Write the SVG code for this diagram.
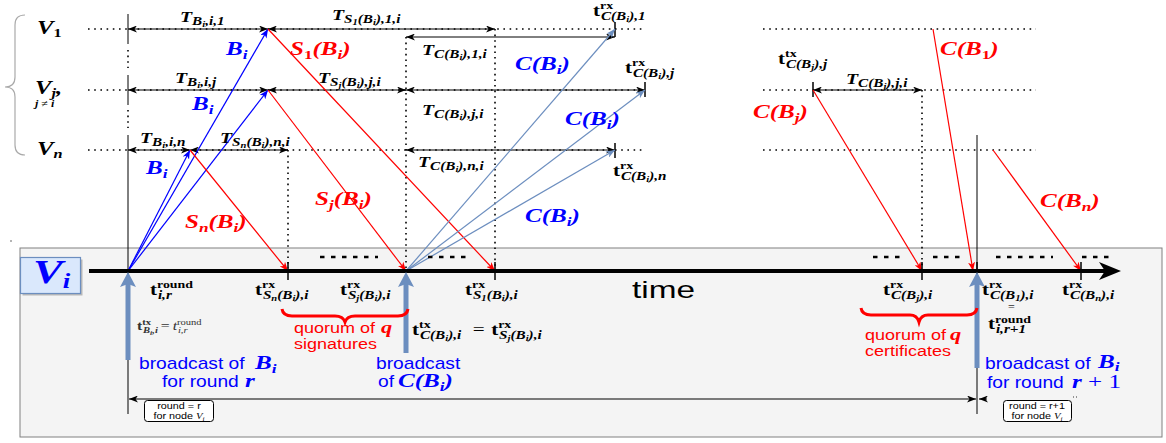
<svg xmlns="http://www.w3.org/2000/svg" width="1166" height="443" viewBox="0 0 1166 443">
<style>
text{font-family:"Liberation Serif","DejaVu Serif",serif}
.m{font-style:italic;font-weight:bold}
.up{font-style:normal}
.nb{font-weight:normal}
.sans{font-family:"Liberation Sans",Arial,sans-serif;font-style:normal;font-weight:normal}
.a{font-size:15px}
.t{font-size:16px}
.s{font-size:10.5px}
.b{font-size:11.5px}
.c{font-size:8px}
.L{font-size:19px}
.Ls{font-size:13px}
.red{fill:#f00}
.blu{fill:#00f}
.dot{stroke:#000;stroke-width:1.6;stroke-dasharray:1.6 4.6;fill:none}
.vdot{stroke:#000;stroke-width:1.6;stroke-dasharray:1.6 4;fill:none}
.tk{stroke:#000;stroke-width:1.5}
.dim{stroke:#000;stroke-width:1;marker-start:url(#hk);marker-end:url(#hk)}
.lr{stroke:#f00;stroke-width:1.2;marker-end:url(#hr)}
.lb{stroke:#00f;stroke-width:1.2;marker-end:url(#hb)}
.ls{stroke:#6c8ebf;stroke-width:1.2;marker-end:url(#hs)}
.fat{stroke:#6c8ebf;stroke-width:5}
.dash{stroke:#000;stroke-width:2.6;stroke-dasharray:4.5 6.5}
.box{fill:#fff;stroke:#000;stroke-width:1}
</style>
<defs>
<marker id="hk" viewBox="0 0 9 7" refX="9" refY="3.5" markerWidth="9" markerHeight="7" markerUnits="userSpaceOnUse" orient="auto-start-reverse"><path d="M0,0 L9,3.5 L0,7 L2.5,3.5 z" fill="#000"/></marker>
<marker id="hr" viewBox="0 0 9 7" refX="9" refY="3.5" markerWidth="9" markerHeight="7" markerUnits="userSpaceOnUse" orient="auto"><path d="M0,0 L9,3.5 L0,7 L2.5,3.5 z" fill="#f00"/></marker>
<marker id="hb" viewBox="0 0 9 7" refX="9" refY="3.5" markerWidth="9" markerHeight="7" markerUnits="userSpaceOnUse" orient="auto"><path d="M0,0 L9,3.5 L0,7 L2.5,3.5 z" fill="#00f"/></marker>
<marker id="hs" viewBox="0 0 9 7" refX="9" refY="3.5" markerWidth="9" markerHeight="7" markerUnits="userSpaceOnUse" orient="auto"><path d="M0,0 L9,3.5 L0,7 L2.5,3.5 z" fill="#6c8ebf"/></marker>
<path id="fh" d="M0,0 L8,15 L0,12 L-8,15 z" fill="#6c8ebf"/>
</defs>

<rect width="1166" height="443" fill="#fff"/>

<!-- local timeline panel of node V_i -->
<g id="timeline-vi">
<rect x="20" y="248" width="1142" height="189" fill="#f4f4f4" stroke="#808080" stroke-width="1"/>
<rect x="22.5" y="259.5" width="60" height="36" fill="#b8b8b8"/>
<rect x="20.5" y="257.5" width="60" height="36" fill="#dae8fc" stroke="#6c8ebf" stroke-width="1.2"/>
<text class="m blu" transform="translate(33 283) scale(1.35 1)"><tspan font-size="33">V</tspan><tspan font-size="20" dy="5">i</tspan></text>
</g>

<!-- row labels and brace -->
<g id="brace">
<path d="M25,15 Q15,15 15,25 L15,77 Q15,87 5,87 Q15,87 15,97 L15,145 Q15,155 25,155" fill="none" stroke="#aaa" stroke-width="1.2"/>
<circle cx="11" cy="241" r="0.8" fill="#555"/>
</g>
<g id="row-v1">
<text class="m" transform="translate(37 34) scale(1.3 1)"><tspan font-size="19">V</tspan><tspan font-size="12.5" dy="3" class="up">1</tspan></text>
<line class="dot" x1="88" y1="29" x2="642" y2="29"/>
<line class="dot" x1="763" y1="29" x2="1036" y2="29"/>
</g>
<g id="row-vj">
<text class="m" transform="translate(35 94) scale(1.3 1)"><tspan font-size="19">V</tspan><tspan font-size="12.5" dy="3">j</tspan><tspan font-size="19" dy="-3">,</tspan></text>
<text class="m" transform="translate(35 107) scale(1.2 1)" font-size="10">j <tspan class="up nb">≠</tspan> i</text>
<line class="dot" x1="88" y1="90" x2="645" y2="90"/>
<line class="dot" x1="763" y1="90" x2="1036" y2="90"/>
</g>
<g id="row-vn">
<text class="m" transform="translate(37 155) scale(1.3 1)"><tspan font-size="19">V</tspan><tspan font-size="12.5" dy="3">n</tspan></text>
<line class="dot" x1="88" y1="150" x2="642" y2="150"/>
<line class="dot" x1="763" y1="150" x2="1036" y2="150"/>
</g>

<!-- connectors: markers, delays and messages -->
<g id="connectors" fill="none">
<!-- round start of V_i and of round r+1 -->
<line x1="128" y1="14" x2="128" y2="44" stroke="#000" stroke-width="1"/>
<line class="vdot" x1="128" y1="50" x2="128" y2="68" stroke-width="1"/>
<line x1="128" y1="75" x2="128" y2="105" stroke="#000" stroke-width="1"/>
<line class="vdot" x1="128" y1="110" x2="128" y2="128" stroke-width="1"/>
<line x1="128" y1="135" x2="128" y2="414" stroke="#000" stroke-width="1"/>
<line x1="977" y1="135" x2="977" y2="414" stroke="#000" stroke-width="1"/>
<!-- guide verticals -->
<line class="vdot" x1="406" y1="37" x2="406" y2="268"/>
<line class="vdot" x1="495" y1="29" x2="495" y2="268"/>
<line class="vdot" x1="288" y1="150" x2="288" y2="268"/>
<line class="vdot" x1="922" y1="90" x2="922" y2="268"/>
<!-- delay spans -->
<line class="dim" x1="128" y1="29" x2="268" y2="29"/>
<line class="dim" x1="268" y1="29" x2="495" y2="29"/>
<line class="dim" x1="406" y1="37" x2="615" y2="37"/>
<line class="dim" x1="128" y1="90" x2="268" y2="90"/>
<line class="dim" x1="268" y1="90" x2="406" y2="90"/>
<line class="dim" x1="406" y1="90" x2="645" y2="90"/>
<line class="dim" x1="128" y1="150" x2="190" y2="150"/>
<line class="dim" x1="190" y1="150" x2="288" y2="150"/>
<line class="dim" x1="406" y1="150" x2="615" y2="150"/>
<line class="dim" x1="813" y1="90" x2="922" y2="90"/>
<!-- event ticks on rows -->
<line class="tk" x1="615" y1="22" x2="615" y2="37"/>
<line class="tk" x1="645" y1="82" x2="645" y2="97"/>
<line class="tk" x1="615" y1="143" x2="615" y2="158"/>
<line class="tk" x1="813" y1="82" x2="813" y2="97"/>
<!-- block B_i broadcast -->
<line class="lb" x1="128" y1="271" x2="268" y2="29"/>
<line class="lb" x1="128" y1="271" x2="268" y2="90"/>
<line class="lb" x1="128" y1="271" x2="190" y2="150"/>
<!-- signatures back to V_i -->
<line class="lr" x1="268" y1="29" x2="495" y2="271"/>
<line class="lr" x1="268" y1="90" x2="406" y2="271"/>
<line class="lr" x1="190" y1="150" x2="288" y2="271"/>
<!-- certificate C(B_i) broadcast -->
<line class="ls" x1="406" y1="271" x2="615" y2="29"/>
<line class="ls" x1="406" y1="271" x2="645" y2="90"/>
<line class="ls" x1="406" y1="271" x2="615" y2="150"/>
<!-- certificates of other nodes -->
<line class="lr" x1="813" y1="90" x2="922" y2="271"/>
<line class="lr" x1="933" y1="29" x2="973" y2="271"/>
<line class="lr" x1="993" y1="150" x2="1081" y2="271"/>
<!-- time axis -->
<line x1="89" y1="271" x2="1106" y2="271" stroke="#000" stroke-width="4"/>
<path d="M1121,271 L1099,262 L1105,271 L1099,280 z" fill="#000"/>
<line class="tk" x1="288" y1="262" x2="288" y2="280"/>
<line class="tk" x1="495" y1="262" x2="495" y2="280"/>
<line class="tk" x1="922" y1="262" x2="922" y2="280"/>
<line class="tk" x1="977" y1="262" x2="977" y2="280"/>
<line class="tk" x1="1081" y1="262" x2="1081" y2="280"/>
<!-- elided events -->
<line class="dash" x1="320" y1="257" x2="378" y2="257"/>
<line class="dash" x1="428" y1="257" x2="468" y2="257"/>
<line class="dash" x1="873" y1="257" x2="903" y2="257"/>
<line class="dash" x1="933" y1="257" x2="963" y2="257"/>
<line class="dash" x1="996" y1="257" x2="1053" y2="257"/>
<line class="dash" x1="1082" y1="257" x2="1113" y2="257"/>
<!-- broadcast instants -->
<line class="fat" x1="128" y1="360" x2="128" y2="283"/>
<use href="#fh" x="128" y="272"/>
<line class="fat" x1="406" y1="353" x2="406" y2="283"/>
<use href="#fh" x="406" y="272"/>
<line class="fat" x1="977" y1="368" x2="977" y2="283"/>
<use href="#fh" x="977" y="272"/>
<!-- round duration -->
<line class="dim" x1="129" y1="399" x2="976" y2="399"/>
<line x1="987" y1="399" x2="979" y2="399" stroke="#000" stroke-width="1" marker-end="url(#hk)"/>
<line x1="1073" y1="397" x2="1079" y2="397" stroke="#000" stroke-width="0.8" stroke-dasharray="1 2"/>
<!-- quorum braces -->
<path d="M282,309 Q283,316 292,316 L335,316 Q343,316 345,322 Q347,316 355,316 L398,316 Q407,316 408,309" stroke="#f00" stroke-width="3"/>
<path d="M861,308 Q862,315 871,315 L910,315 Q917,315 919,322 Q921,315 928,315 L967,315 Q976,315 977,308" stroke="#f00" stroke-width="3"/>
</g>

<!-- delay labels -->
<g id="delay-labels">
<text class="m" transform="translate(180 22) scale(1.32 1)"><tspan class="a">T</tspan><tspan class="b" dy="3">B</tspan><tspan class="c" dy="2">i</tspan><tspan class="b" dy="-2">,i,1</tspan></text>
<text class="m" transform="translate(332 20) scale(1.32 1)"><tspan class="a">T</tspan><tspan class="b" dy="3">S</tspan><tspan class="c" dy="2">1</tspan><tspan class="b" dy="-2">(B</tspan><tspan class="c" dy="2">i</tspan><tspan class="b" dy="-2">),1,i</tspan></text>
<text class="m" transform="translate(422 55) scale(1.32 1)"><tspan class="a">T</tspan><tspan class="b" dy="3">C(B</tspan><tspan class="c" dy="2">i</tspan><tspan class="b" dy="-2">),1,i</tspan></text>
<text class="m" transform="translate(175 83) scale(1.32 1)"><tspan class="a">T</tspan><tspan class="b" dy="3">B</tspan><tspan class="c" dy="2">i</tspan><tspan class="b" dy="-2">,i,j</tspan></text>
<text class="m" transform="translate(318 83) scale(1.32 1)"><tspan class="a">T</tspan><tspan class="b" dy="3">S</tspan><tspan class="c" dy="2">j</tspan><tspan class="b" dy="-2">(B</tspan><tspan class="c" dy="2">i</tspan><tspan class="b" dy="-2">),j,i</tspan></text>
<text class="m" transform="translate(422 115) scale(1.32 1)"><tspan class="a">T</tspan><tspan class="b" dy="3">C(B</tspan><tspan class="c" dy="2">i</tspan><tspan class="b" dy="-2">),j,i</tspan></text>
<text class="m" transform="translate(140 143) scale(1.32 1)"><tspan class="a">T</tspan><tspan class="b" dy="3">B</tspan><tspan class="c" dy="2">i</tspan><tspan class="b" dy="-2">,i,n</tspan></text>
<text class="m" transform="translate(220 143) scale(1.32 1)"><tspan class="a">T</tspan><tspan class="b" dy="3">S</tspan><tspan class="c" dy="2">n</tspan><tspan class="b" dy="-2">(B</tspan><tspan class="c" dy="2">i</tspan><tspan class="b" dy="-2">),n,i</tspan></text>
<text class="m" transform="translate(418 167) scale(1.32 1)"><tspan class="a">T</tspan><tspan class="b" dy="3">C(B</tspan><tspan class="c" dy="2">i</tspan><tspan class="b" dy="-2">),n,i</tspan></text>
<text class="m" transform="translate(846 84) scale(1.32 1)"><tspan class="a">T</tspan><tspan class="b" dy="3">C(B</tspan><tspan class="c" dy="2">j</tspan><tspan class="b" dy="-2">),j,i</tspan></text>
</g>

<!-- event instants -->
<g id="instant-labels">
<text class="m" transform="translate(593 16) scale(1.32 1)"><tspan class="t up">t</tspan><tspan class="s up" dy="-7">rx</tspan><tspan class="b" x="6" dy="11">C(B</tspan><tspan class="c" dy="2">i</tspan><tspan class="b" dy="-2">),1</tspan></text>
<text class="m" transform="translate(625 73) scale(1.32 1)"><tspan class="t up">t</tspan><tspan class="s up" dy="-7">rx</tspan><tspan class="b" x="6" dy="11">C(B</tspan><tspan class="c" dy="2">i</tspan><tspan class="b" dy="-2">),j</tspan></text>
<text class="m" transform="translate(613 176) scale(1.32 1)"><tspan class="t up">t</tspan><tspan class="s up" dy="-7">rx</tspan><tspan class="b" x="6" dy="11">C(B</tspan><tspan class="c" dy="2">i</tspan><tspan class="b" dy="-2">),n</tspan></text>
<text class="m" transform="translate(778 64) scale(1.32 1)"><tspan class="t up">t</tspan><tspan class="s up" dy="-7">tx</tspan><tspan class="b" x="6" dy="11">C(B</tspan><tspan class="c" dy="2">j</tspan><tspan class="b" dy="-2">),j</tspan></text>
<text class="m" transform="translate(150 295) scale(1.32 1)"><tspan class="t up">t</tspan><tspan class="s up" dy="-7">round</tspan><tspan class="b" x="6" dy="11">i,r</tspan></text>
<text class="m" transform="translate(255 295) scale(1.32 1)"><tspan class="t up">t</tspan><tspan class="s up" dy="-7">rx</tspan><tspan class="b" x="6" dy="11">S</tspan><tspan class="c" dy="2">n</tspan><tspan class="b" dy="-2">(B</tspan><tspan class="c" dy="2">i</tspan><tspan class="b" dy="-2">),i</tspan></text>
<text class="m" transform="translate(340 295) scale(1.32 1)"><tspan class="t up">t</tspan><tspan class="s up" dy="-7">rx</tspan><tspan class="b" x="6" dy="11">S</tspan><tspan class="c" dy="2">j</tspan><tspan class="b" dy="-2">(B</tspan><tspan class="c" dy="2">i</tspan><tspan class="b" dy="-2">),i</tspan></text>
<text class="m" transform="translate(465 295) scale(1.32 1)"><tspan class="t up">t</tspan><tspan class="s up" dy="-7">rx</tspan><tspan class="b" x="6" dy="11">S</tspan><tspan class="c" dy="2">1</tspan><tspan class="b" dy="-2">(B</tspan><tspan class="c" dy="2">i</tspan><tspan class="b" dy="-2">),i</tspan></text>
<text class="m" transform="translate(883 295) scale(1.32 1)"><tspan class="t up">t</tspan><tspan class="s up" dy="-7">rx</tspan><tspan class="b" x="6" dy="11">C(B</tspan><tspan class="c" dy="2">j</tspan><tspan class="b" dy="-2">),i</tspan></text>
<text class="m" transform="translate(982 295) scale(1.32 1)"><tspan class="t up">t</tspan><tspan class="s up" dy="-7">rx</tspan><tspan class="b" x="6" dy="11">C(B</tspan><tspan class="c" dy="2">1</tspan><tspan class="b" dy="-2">),i</tspan></text>
<text class="up" x="1008" y="311" font-size="12" fill="#333">=</text>
<text class="m" transform="translate(988 329) scale(1.32 1)"><tspan class="t up">t</tspan><tspan class="s up" dy="-6">round</tspan><tspan class="b" x="6" dy="10">i,r+1</tspan></text>
<text class="m" transform="translate(1062 295) scale(1.32 1)"><tspan class="t up">t</tspan><tspan class="s up" dy="-7">rx</tspan><tspan class="b" x="6" dy="11">C(B</tspan><tspan class="c" dy="2">n</tspan><tspan class="b" dy="-2">),i</tspan></text>
<text class="m" transform="translate(137 330) scale(1.32 1)" fill="#333"><tspan class="up" font-size="12">t</tspan><tspan class="up" font-size="8" dy="-5">tx</tspan><tspan font-size="8" x="4.6" dy="8">B</tspan><tspan font-size="6" dy="1.5">i</tspan><tspan font-size="8" dy="-1.5">,i</tspan><tspan class="up nb" font-size="12" x="18" dy="-3">=</tspan><tspan class="nb" font-size="12" x="27">t</tspan><tspan class="up nb" font-size="8" dy="-5">round</tspan><tspan class="nb" font-size="8" x="31" dy="8">i,r</tspan></text>
<text class="m" transform="translate(412 335) scale(1.32 1)"><tspan class="t up">t</tspan><tspan class="s up" dy="-7">tx</tspan><tspan class="b" x="6" dy="11">C(B</tspan><tspan class="c" dy="2">i</tspan><tspan class="b" dy="-2">),i</tspan><tspan class="up nb" font-size="16" x="46" dy="-4">=</tspan><tspan class="t up" x="60">t</tspan><tspan class="s up" dy="-7">rx</tspan><tspan class="b" x="66" dy="11">S</tspan><tspan class="c" dy="2">j</tspan><tspan class="b" dy="-2">(B</tspan><tspan class="c" dy="2">i</tspan><tspan class="b" dy="-2">),i</tspan></text>
</g>

<!-- message labels -->
<g id="message-labels">
<text class="m blu" transform="translate(226 55) scale(1.32 1)"><tspan class="L">B</tspan><tspan class="Ls" dy="4">i</tspan></text>
<text class="m blu" transform="translate(192 110) scale(1.32 1)"><tspan class="L">B</tspan><tspan class="Ls" dy="4">i</tspan></text>
<text class="m blu" transform="translate(146 174) scale(1.32 1)"><tspan class="L">B</tspan><tspan class="Ls" dy="4">i</tspan></text>
<text class="m red" transform="translate(290 55) scale(1.32 1)"><tspan class="L">S</tspan><tspan class="Ls up" dy="4">1</tspan><tspan class="L" dy="-4">(B</tspan><tspan class="Ls" dy="4">i</tspan><tspan class="L" dy="-4">)</tspan></text>
<text class="m red" transform="translate(315 205) scale(1.32 1)"><tspan class="L">S</tspan><tspan class="Ls" dy="4">j</tspan><tspan class="L" dy="-4">(B</tspan><tspan class="Ls" dy="4">i</tspan><tspan class="L" dy="-4">)</tspan></text>
<text class="m red" transform="translate(185 228) scale(1.32 1)"><tspan class="L">S</tspan><tspan class="Ls" dy="4">n</tspan><tspan class="L" dy="-4">(B</tspan><tspan class="Ls" dy="4">i</tspan><tspan class="L" dy="-4">)</tspan></text>
<text class="m blu" transform="translate(515 70) scale(1.32 1)"><tspan class="L">C(B</tspan><tspan class="Ls" dy="4">i</tspan><tspan class="L" dy="-4">)</tspan></text>
<text class="m blu" transform="translate(565 125) scale(1.32 1)"><tspan class="L">C(B</tspan><tspan class="Ls" dy="4">i</tspan><tspan class="L" dy="-4">)</tspan></text>
<text class="m blu" transform="translate(525 222) scale(1.32 1)"><tspan class="L">C(B</tspan><tspan class="Ls" dy="4">i</tspan><tspan class="L" dy="-4">)</tspan></text>
<text class="m red" transform="translate(940 55) scale(1.32 1)"><tspan class="L">C(B</tspan><tspan class="Ls up" dy="4">1</tspan><tspan class="L" dy="-4">)</tspan></text>
<text class="m red" transform="translate(753 118) scale(1.32 1)"><tspan class="L">C(B</tspan><tspan class="Ls" dy="4">j</tspan><tspan class="L" dy="-4">)</tspan></text>
<text class="m red" transform="translate(1040 207) scale(1.32 1)"><tspan class="L">C(B</tspan><tspan class="Ls" dy="4">n</tspan><tspan class="L" dy="-4">)</tspan></text>
</g>

<!-- annotations under the time axis -->
<g id="annotations">
<text class="sans" transform="translate(632 298) scale(1.39 1)" font-size="24">time</text>
<text class="sans red" transform="translate(294 333) scale(1.2 1)" font-size="15">quorum of</text>
<text class="m red" transform="translate(381 333) scale(1.32 1)" font-size="17">q</text>
<text class="sans red" transform="translate(294 349) scale(1.2 1)" font-size="15">signatures</text>
<text class="sans red" transform="translate(865 340) scale(1.2 1)" font-size="15">quorum of</text>
<text class="m red" transform="translate(950 340) scale(1.32 1)" font-size="17">q</text>
<text class="sans red" transform="translate(865 356) scale(1.2 1)" font-size="15">certificates</text>
<text class="sans blu" transform="translate(139 369) scale(1.2 1)" font-size="16">broadcast of</text>
<text class="m blu" transform="translate(255 369) scale(1.32 1)"><tspan class="L">B</tspan><tspan class="Ls" dy="4">i</tspan></text>
<text class="sans blu" transform="translate(162 387) scale(1.2 1)" font-size="16">for round</text>
<text class="m blu" transform="translate(245 387) scale(1.32 1)"><tspan class="L">r</tspan></text>
<text class="sans blu" transform="translate(376 369) scale(1.2 1)" font-size="16">broadcast</text>
<text class="sans blu" transform="translate(378 387) scale(1.2 1)" font-size="16">of</text>
<text class="m blu" transform="translate(398 387) scale(1.32 1)"><tspan class="L">C(B</tspan><tspan class="Ls" dy="4">i</tspan><tspan class="L" dy="-4">)</tspan></text>
<text class="sans blu" transform="translate(985 369) scale(1.2 1)" font-size="16">broadcast of</text>
<text class="m blu" transform="translate(1098 368) scale(1.32 1)"><tspan class="L">B</tspan><tspan class="Ls" dy="3">i</tspan></text>
<text class="sans blu" transform="translate(987 388) scale(1.2 1)" font-size="16">for round</text>
<text class="m blu" transform="translate(1072 388) scale(1.32 1)"><tspan class="L">r</tspan><tspan class="L up nb"> + 1</tspan></text>
</g>

<!-- round tags -->
<g id="tag-round-r">
<rect class="box" x="144.5" y="400.5" width="69" height="21" rx="3"/>
<text class="sans" transform="translate(179 409) scale(1.2 1)" font-size="9" text-anchor="middle">round = r</text>
<text class="sans" transform="translate(179 419) scale(1.2 1)" font-size="9" text-anchor="middle">for node <tspan font-family="Liberation Serif" font-style="italic">V<tspan font-size="6" dy="1.5">i</tspan></tspan></text>
</g>
<g id="tag-round-r1">
<rect class="box" x="1003.5" y="400.5" width="68" height="21" rx="3"/>
<text class="sans" transform="translate(1037 409) scale(1.2 1)" font-size="9" text-anchor="middle">round = r+1</text>
<text class="sans" transform="translate(1037 419) scale(1.2 1)" font-size="9" text-anchor="middle">for node <tspan font-family="Liberation Serif" font-style="italic">V<tspan font-size="6" dy="1.5">i</tspan></tspan></text>
</g>
</svg>
